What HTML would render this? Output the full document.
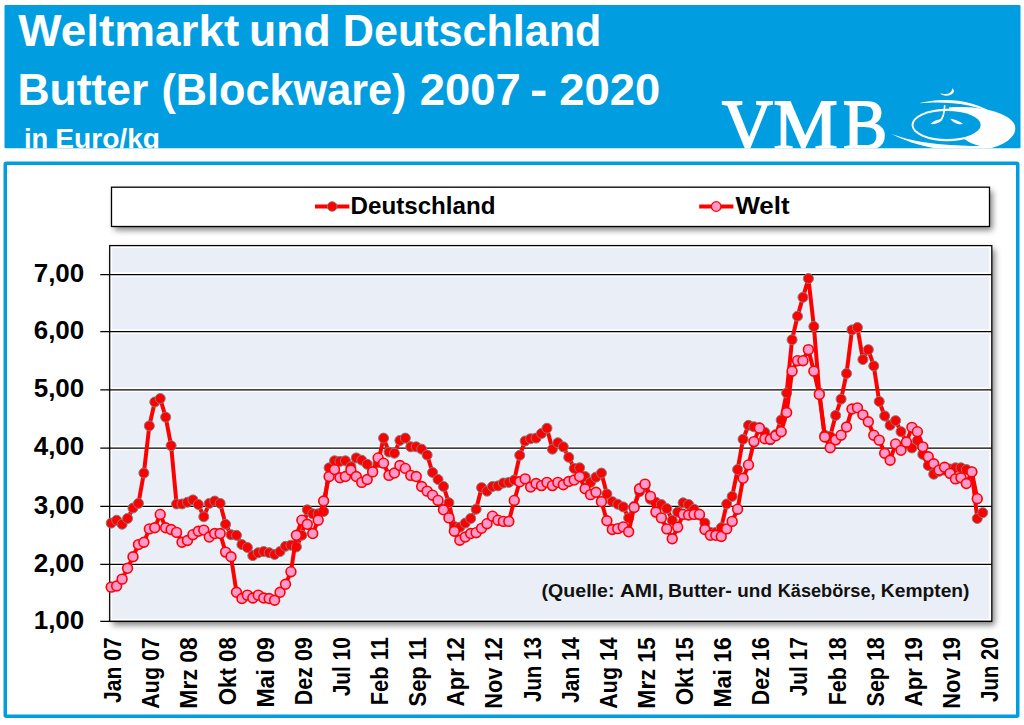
<!DOCTYPE html>
<html><head><meta charset="utf-8"><style>
html,body{margin:0;padding:0;background:#fff;width:1024px;height:725px;overflow:hidden}
svg{display:block}
</style></head><body>
<svg width="1024" height="725" viewBox="0 0 1024 725">
<defs>
<clipPath id="hc"><rect x="4.5" y="5" width="1016" height="143.2"/></clipPath>
<filter id="sh" x="-5%" y="-20%" width="110%" height="150%"><feGaussianBlur stdDeviation="3"/></filter>
</defs>
<rect x="4.5" y="5" width="1016" height="143.2" rx="1" fill="#009ee0"/>
<g clip-path="url(#hc)" fill="#fff" font-family="'Liberation Sans', sans-serif" font-weight="bold">
<text x="18.20" y="45.8" font-family="'Liberation Sans', sans-serif" font-weight="bold" font-size="45" textLength="221.06" lengthAdjust="spacingAndGlyphs" >Weltmarkt</text>
<text x="249.03" y="45.8" font-family="'Liberation Sans', sans-serif" font-weight="bold" font-size="45" textLength="81.61" lengthAdjust="spacingAndGlyphs" >und</text>
<text x="342.83" y="45.8" font-family="'Liberation Sans', sans-serif" font-weight="bold" font-size="45" textLength="258.59" lengthAdjust="spacingAndGlyphs" >Deutschland</text>
<text x="17.47" y="105" font-family="'Liberation Sans', sans-serif" font-weight="bold" font-size="44" textLength="130.90" lengthAdjust="spacingAndGlyphs" >Butter</text>
<text x="161.44" y="105" font-family="'Liberation Sans', sans-serif" font-weight="bold" font-size="44" textLength="245.04" lengthAdjust="spacingAndGlyphs" >(Blockware)</text>
<text x="419.67" y="105" font-family="'Liberation Sans', sans-serif" font-weight="bold" font-size="44" textLength="100.98" lengthAdjust="spacingAndGlyphs" >2007</text>
<text x="530.10" y="105" font-family="'Liberation Sans', sans-serif" font-weight="bold" font-size="44" textLength="17.59" lengthAdjust="spacingAndGlyphs" >-</text>
<text x="559.17" y="105" font-family="'Liberation Sans', sans-serif" font-weight="bold" font-size="44" textLength="101.08" lengthAdjust="spacingAndGlyphs" >2020</text>
<text x="23.98" y="147.8" font-family="'Liberation Sans', sans-serif" font-weight="bold" font-size="28.5" textLength="24.29" lengthAdjust="spacingAndGlyphs" >in</text>
<text x="55.22" y="147.8" font-family="'Liberation Sans', sans-serif" font-weight="bold" font-size="28.5" textLength="104.86" lengthAdjust="spacingAndGlyphs" >Euro/kg</text>
<text x="721.90" y="149.2" font-family="'Liberation Serif', serif" font-weight="normal" font-size="71" textLength="50.77" lengthAdjust="spacingAndGlyphs" stroke="#fff" stroke-width="1.8">V</text>
<text x="773.44" y="149.2" font-family="'Liberation Serif', serif" font-weight="normal" font-size="71" textLength="64.18" lengthAdjust="spacingAndGlyphs" stroke="#fff" stroke-width="1.8">M</text>
<text x="843.01" y="149.2" font-family="'Liberation Serif', serif" font-weight="normal" font-size="71" textLength="44.19" lengthAdjust="spacingAndGlyphs" stroke="#fff" stroke-width="1.8">B</text>
<g transform="translate(885,80) scale(0.135741)">
<path d="M470,203 C650,188 905,225 955,330 C985,420 860,500 700,515 L600,515 L470,331 Z"/>
<path d="M150,330 C150,190 400,185 470,203 L457,331 L590,438 C625,462 655,476 700,484 C500,492 250,480 150,330 Z" fill="#009ee0"/>
<ellipse cx="457.5" cy="331.5" rx="262" ry="119"/>
<ellipse cx="457.5" cy="331.5" rx="247.5" ry="103.5" fill="#009ee0"/>
<path d="M45,395 C180,455 380,482 700,488 L700,530 C380,530 180,470 45,395 Z"/>
<path d="M255,172 C380,138 640,118 840,275 C660,158 400,158 255,172 Z"/>
<path d="M405,100 C430,125 500,120 508,85 C510,75 503,65 495,60 C495,95 460,110 405,100 Z"/>
<path d="M440,185 C438,240 430,280 405,300" stroke="#fff" stroke-width="12" fill="none"/>
<path d="M335,325 C360,300 390,290 425,290 C410,315 370,330 335,325 Z"/>
<path d="M480,285 C515,290 555,305 575,325 C540,330 500,315 480,285 Z"/>
</g>
</g>
</g>
<rect x="5.25" y="163.25" width="1012.5" height="553" rx="1" fill="#fff" stroke="#009ee0" stroke-width="3.5"/>
<rect x="114.5" y="190.8" width="878" height="39.3" fill="#000" opacity="0.5" filter="url(#sh)"/>
<rect x="111.5" y="187.2" width="878" height="39.3" fill="#fff" stroke="#000" stroke-width="1.3"/>
<line x1="315" y1="206.5" x2="349.4" y2="206.5" stroke="#f00" stroke-width="4" stroke-linecap="butt"/>
<circle cx="332.2" cy="206.5" r="4.8" fill="#f00" stroke="#7f7f7f" stroke-width="1"/>
<line x1="699.2" y1="206.5" x2="733.4" y2="206.5" stroke="#f00" stroke-width="4" stroke-linecap="butt"/>
<circle cx="716.2" cy="206.5" r="4.8" fill="#ff99cc" stroke="#f00" stroke-width="1.3"/>
<g font-family="'Liberation Sans', sans-serif" font-weight="bold" fill="#000">
<text x="350.57" y="214" font-family="'Liberation Sans', sans-serif" font-weight="bold" font-size="23.5" textLength="144.89" lengthAdjust="spacingAndGlyphs" >Deutschland</text>
<text x="735.40" y="214.4" font-family="'Liberation Sans', sans-serif" font-weight="bold" font-size="23.5" textLength="54.21" lengthAdjust="spacingAndGlyphs" >Welt</text>
</g>
<rect x="112.7" y="249.1" width="882" height="376" fill="#000" opacity="0.5" filter="url(#sh)"/>
<rect x="109.7" y="245.6" width="882.1" height="375.9" fill="#eaeff7"/>
<line x1="109.7" y1="564.30" x2="991.8" y2="564.30" stroke="#fff" stroke-width="4.4"/>
<line x1="109.7" y1="506.30" x2="991.8" y2="506.30" stroke="#fff" stroke-width="4.4"/>
<line x1="109.7" y1="448.00" x2="991.8" y2="448.00" stroke="#fff" stroke-width="4.4"/>
<line x1="109.7" y1="389.80" x2="991.8" y2="389.80" stroke="#fff" stroke-width="4.4"/>
<line x1="109.7" y1="331.60" x2="991.8" y2="331.60" stroke="#fff" stroke-width="4.4"/>
<line x1="109.7" y1="274.50" x2="991.8" y2="274.50" stroke="#fff" stroke-width="4.4"/>
<rect x="110.9" y="246.8" width="879.7" height="373.4" fill="none" stroke="#fff" stroke-width="2.4"/>
<line x1="100.3" y1="621.40" x2="991.8" y2="621.40" stroke="#000" stroke-width="1.25"/>
<line x1="100.3" y1="564.30" x2="991.8" y2="564.30" stroke="#000" stroke-width="1.25"/>
<line x1="100.3" y1="506.30" x2="991.8" y2="506.30" stroke="#000" stroke-width="1.25"/>
<line x1="100.3" y1="448.00" x2="991.8" y2="448.00" stroke="#000" stroke-width="1.25"/>
<line x1="100.3" y1="389.80" x2="991.8" y2="389.80" stroke="#000" stroke-width="1.25"/>
<line x1="100.3" y1="331.60" x2="991.8" y2="331.60" stroke="#000" stroke-width="1.25"/>
<line x1="100.3" y1="274.50" x2="991.8" y2="274.50" stroke="#000" stroke-width="1.25"/>
<rect x="109.7" y="245.6" width="882.1" height="375.8" fill="none" stroke="#000" stroke-width="1.25"/>
<g fill="#111">
<text x="541.61" y="597" font-family="'Liberation Sans', sans-serif" font-weight="bold" font-size="18" textLength="72.79" lengthAdjust="spacingAndGlyphs" >(Quelle:</text>
<text x="619.90" y="597" font-family="'Liberation Sans', sans-serif" font-weight="bold" font-size="18" textLength="43.75" lengthAdjust="spacingAndGlyphs" >AMI,</text>
<text x="668.02" y="597" font-family="'Liberation Sans', sans-serif" font-weight="bold" font-size="18" textLength="63.78" lengthAdjust="spacingAndGlyphs" >Butter-</text>
<text x="737.35" y="597" font-family="'Liberation Sans', sans-serif" font-weight="bold" font-size="18" textLength="34.60" lengthAdjust="spacingAndGlyphs" >und</text>
<text x="777.69" y="597" font-family="'Liberation Sans', sans-serif" font-weight="bold" font-size="18" textLength="97.88" lengthAdjust="spacingAndGlyphs" >Käsebörse,</text>
<text x="880.83" y="597" font-family="'Liberation Sans', sans-serif" font-weight="bold" font-size="18" textLength="88.66" lengthAdjust="spacingAndGlyphs" >Kempten)</text>
</g>
<polyline points="111.20,523.12 116.65,520.22 122.09,524.28 127.54,518.48 132.99,508.04 138.44,503.39 143.88,473.07 149.33,425.88 154.78,402.02 160.22,398.53 165.67,417.15 171.12,445.67 176.56,503.97 182.01,503.97 187.46,502.22 192.91,499.89 198.35,504.55 203.80,516.74 209.25,503.39 214.69,501.05 220.14,503.39 225.59,524.28 231.03,534.72 236.48,535.30 241.93,544.58 247.38,547.48 252.82,555.60 258.27,552.70 263.72,551.54 269.16,552.70 274.61,554.44 280.06,551.54 285.50,546.32 290.95,545.16 296.40,546.90 301.85,535.30 307.29,509.78 312.74,513.84 318.19,513.84 323.63,511.52 329.08,467.82 334.53,460.83 339.97,461.41 345.42,460.83 350.87,466.66 356.31,457.91 361.76,460.24 367.21,464.32 372.66,471.32 378.10,462.57 383.55,438.11 389.00,452.08 394.44,453.25 399.89,440.43 405.34,438.11 410.78,446.84 416.23,446.84 421.68,449.17 427.13,455.00 432.57,472.49 438.02,479.48 443.47,486.48 448.91,502.80 454.36,526.60 459.81,527.18 465.25,523.12 470.70,518.48 476.15,509.20 481.60,487.64 487.04,491.14 492.49,486.48 497.94,485.89 503.38,482.98 508.83,482.40 514.28,480.06 519.73,455.29 525.17,441.02 530.62,438.69 536.07,438.11 541.51,433.45 546.96,428.21 552.41,449.17 557.85,442.76 563.30,446.84 568.75,457.33 574.20,468.41 579.64,467.82 585.09,476.57 590.54,482.40 595.98,477.15 601.43,473.07 606.88,494.06 612.32,501.64 617.77,504.26 623.22,506.88 628.67,517.90 634.11,506.30 639.56,491.73 645.01,485.89 650.45,499.30 655.90,502.22 661.35,504.55 666.79,508.62 672.24,520.22 677.69,512.10 683.14,502.80 688.58,504.55 694.03,509.20 699.48,515.00 704.92,523.12 710.37,532.40 715.82,532.40 721.26,527.76 726.71,503.97 732.16,496.39 737.61,469.57 743.05,439.27 748.50,425.30 753.95,426.76 759.39,427.63 764.84,432.29 770.29,439.85 775.73,434.61 781.18,420.06 786.63,393.00 792.08,339.75 797.52,316.18 802.97,297.34 808.42,278.50 813.86,326.46 819.31,392.71 824.76,435.20 830.20,436.36 835.65,415.41 841.10,399.11 846.55,373.50 851.99,329.89 857.44,327.60 862.89,359.54 868.33,349.64 873.78,365.94 879.23,401.44 884.67,415.99 890.12,425.30 895.57,420.65 901.02,431.70 906.46,442.18 911.91,448.00 917.36,440.43 922.80,454.41 928.25,465.49 933.70,474.24 939.14,471.32 944.59,470.15 950.04,468.99 955.49,467.82 960.93,467.82 966.38,469.57 971.83,471.90 977.27,518.48 982.72,512.68" fill="none" stroke="#f00" stroke-width="4" stroke-linejoin="round"/>
<circle cx="111.20" cy="523.12" r="5" fill="#f00" stroke="#7f7f7f" stroke-width="1"/>
<circle cx="116.65" cy="520.22" r="5" fill="#f00" stroke="#7f7f7f" stroke-width="1"/>
<circle cx="122.09" cy="524.28" r="5" fill="#f00" stroke="#7f7f7f" stroke-width="1"/>
<circle cx="127.54" cy="518.48" r="5" fill="#f00" stroke="#7f7f7f" stroke-width="1"/>
<circle cx="132.99" cy="508.04" r="5" fill="#f00" stroke="#7f7f7f" stroke-width="1"/>
<circle cx="138.44" cy="503.39" r="5" fill="#f00" stroke="#7f7f7f" stroke-width="1"/>
<circle cx="143.88" cy="473.07" r="5" fill="#f00" stroke="#7f7f7f" stroke-width="1"/>
<circle cx="149.33" cy="425.88" r="5" fill="#f00" stroke="#7f7f7f" stroke-width="1"/>
<circle cx="154.78" cy="402.02" r="5" fill="#f00" stroke="#7f7f7f" stroke-width="1"/>
<circle cx="160.22" cy="398.53" r="5" fill="#f00" stroke="#7f7f7f" stroke-width="1"/>
<circle cx="165.67" cy="417.15" r="5" fill="#f00" stroke="#7f7f7f" stroke-width="1"/>
<circle cx="171.12" cy="445.67" r="5" fill="#f00" stroke="#7f7f7f" stroke-width="1"/>
<circle cx="176.56" cy="503.97" r="5" fill="#f00" stroke="#7f7f7f" stroke-width="1"/>
<circle cx="182.01" cy="503.97" r="5" fill="#f00" stroke="#7f7f7f" stroke-width="1"/>
<circle cx="187.46" cy="502.22" r="5" fill="#f00" stroke="#7f7f7f" stroke-width="1"/>
<circle cx="192.91" cy="499.89" r="5" fill="#f00" stroke="#7f7f7f" stroke-width="1"/>
<circle cx="198.35" cy="504.55" r="5" fill="#f00" stroke="#7f7f7f" stroke-width="1"/>
<circle cx="203.80" cy="516.74" r="5" fill="#f00" stroke="#7f7f7f" stroke-width="1"/>
<circle cx="209.25" cy="503.39" r="5" fill="#f00" stroke="#7f7f7f" stroke-width="1"/>
<circle cx="214.69" cy="501.05" r="5" fill="#f00" stroke="#7f7f7f" stroke-width="1"/>
<circle cx="220.14" cy="503.39" r="5" fill="#f00" stroke="#7f7f7f" stroke-width="1"/>
<circle cx="225.59" cy="524.28" r="5" fill="#f00" stroke="#7f7f7f" stroke-width="1"/>
<circle cx="231.03" cy="534.72" r="5" fill="#f00" stroke="#7f7f7f" stroke-width="1"/>
<circle cx="236.48" cy="535.30" r="5" fill="#f00" stroke="#7f7f7f" stroke-width="1"/>
<circle cx="241.93" cy="544.58" r="5" fill="#f00" stroke="#7f7f7f" stroke-width="1"/>
<circle cx="247.38" cy="547.48" r="5" fill="#f00" stroke="#7f7f7f" stroke-width="1"/>
<circle cx="252.82" cy="555.60" r="5" fill="#f00" stroke="#7f7f7f" stroke-width="1"/>
<circle cx="258.27" cy="552.70" r="5" fill="#f00" stroke="#7f7f7f" stroke-width="1"/>
<circle cx="263.72" cy="551.54" r="5" fill="#f00" stroke="#7f7f7f" stroke-width="1"/>
<circle cx="269.16" cy="552.70" r="5" fill="#f00" stroke="#7f7f7f" stroke-width="1"/>
<circle cx="274.61" cy="554.44" r="5" fill="#f00" stroke="#7f7f7f" stroke-width="1"/>
<circle cx="280.06" cy="551.54" r="5" fill="#f00" stroke="#7f7f7f" stroke-width="1"/>
<circle cx="285.50" cy="546.32" r="5" fill="#f00" stroke="#7f7f7f" stroke-width="1"/>
<circle cx="290.95" cy="545.16" r="5" fill="#f00" stroke="#7f7f7f" stroke-width="1"/>
<circle cx="296.40" cy="546.90" r="5" fill="#f00" stroke="#7f7f7f" stroke-width="1"/>
<circle cx="301.85" cy="535.30" r="5" fill="#f00" stroke="#7f7f7f" stroke-width="1"/>
<circle cx="307.29" cy="509.78" r="5" fill="#f00" stroke="#7f7f7f" stroke-width="1"/>
<circle cx="312.74" cy="513.84" r="5" fill="#f00" stroke="#7f7f7f" stroke-width="1"/>
<circle cx="318.19" cy="513.84" r="5" fill="#f00" stroke="#7f7f7f" stroke-width="1"/>
<circle cx="323.63" cy="511.52" r="5" fill="#f00" stroke="#7f7f7f" stroke-width="1"/>
<circle cx="329.08" cy="467.82" r="5" fill="#f00" stroke="#7f7f7f" stroke-width="1"/>
<circle cx="334.53" cy="460.83" r="5" fill="#f00" stroke="#7f7f7f" stroke-width="1"/>
<circle cx="339.97" cy="461.41" r="5" fill="#f00" stroke="#7f7f7f" stroke-width="1"/>
<circle cx="345.42" cy="460.83" r="5" fill="#f00" stroke="#7f7f7f" stroke-width="1"/>
<circle cx="350.87" cy="466.66" r="5" fill="#f00" stroke="#7f7f7f" stroke-width="1"/>
<circle cx="356.31" cy="457.91" r="5" fill="#f00" stroke="#7f7f7f" stroke-width="1"/>
<circle cx="361.76" cy="460.24" r="5" fill="#f00" stroke="#7f7f7f" stroke-width="1"/>
<circle cx="367.21" cy="464.32" r="5" fill="#f00" stroke="#7f7f7f" stroke-width="1"/>
<circle cx="372.66" cy="471.32" r="5" fill="#f00" stroke="#7f7f7f" stroke-width="1"/>
<circle cx="378.10" cy="462.57" r="5" fill="#f00" stroke="#7f7f7f" stroke-width="1"/>
<circle cx="383.55" cy="438.11" r="5" fill="#f00" stroke="#7f7f7f" stroke-width="1"/>
<circle cx="389.00" cy="452.08" r="5" fill="#f00" stroke="#7f7f7f" stroke-width="1"/>
<circle cx="394.44" cy="453.25" r="5" fill="#f00" stroke="#7f7f7f" stroke-width="1"/>
<circle cx="399.89" cy="440.43" r="5" fill="#f00" stroke="#7f7f7f" stroke-width="1"/>
<circle cx="405.34" cy="438.11" r="5" fill="#f00" stroke="#7f7f7f" stroke-width="1"/>
<circle cx="410.78" cy="446.84" r="5" fill="#f00" stroke="#7f7f7f" stroke-width="1"/>
<circle cx="416.23" cy="446.84" r="5" fill="#f00" stroke="#7f7f7f" stroke-width="1"/>
<circle cx="421.68" cy="449.17" r="5" fill="#f00" stroke="#7f7f7f" stroke-width="1"/>
<circle cx="427.13" cy="455.00" r="5" fill="#f00" stroke="#7f7f7f" stroke-width="1"/>
<circle cx="432.57" cy="472.49" r="5" fill="#f00" stroke="#7f7f7f" stroke-width="1"/>
<circle cx="438.02" cy="479.48" r="5" fill="#f00" stroke="#7f7f7f" stroke-width="1"/>
<circle cx="443.47" cy="486.48" r="5" fill="#f00" stroke="#7f7f7f" stroke-width="1"/>
<circle cx="448.91" cy="502.80" r="5" fill="#f00" stroke="#7f7f7f" stroke-width="1"/>
<circle cx="454.36" cy="526.60" r="5" fill="#f00" stroke="#7f7f7f" stroke-width="1"/>
<circle cx="459.81" cy="527.18" r="5" fill="#f00" stroke="#7f7f7f" stroke-width="1"/>
<circle cx="465.25" cy="523.12" r="5" fill="#f00" stroke="#7f7f7f" stroke-width="1"/>
<circle cx="470.70" cy="518.48" r="5" fill="#f00" stroke="#7f7f7f" stroke-width="1"/>
<circle cx="476.15" cy="509.20" r="5" fill="#f00" stroke="#7f7f7f" stroke-width="1"/>
<circle cx="481.60" cy="487.64" r="5" fill="#f00" stroke="#7f7f7f" stroke-width="1"/>
<circle cx="487.04" cy="491.14" r="5" fill="#f00" stroke="#7f7f7f" stroke-width="1"/>
<circle cx="492.49" cy="486.48" r="5" fill="#f00" stroke="#7f7f7f" stroke-width="1"/>
<circle cx="497.94" cy="485.89" r="5" fill="#f00" stroke="#7f7f7f" stroke-width="1"/>
<circle cx="503.38" cy="482.98" r="5" fill="#f00" stroke="#7f7f7f" stroke-width="1"/>
<circle cx="508.83" cy="482.40" r="5" fill="#f00" stroke="#7f7f7f" stroke-width="1"/>
<circle cx="514.28" cy="480.06" r="5" fill="#f00" stroke="#7f7f7f" stroke-width="1"/>
<circle cx="519.73" cy="455.29" r="5" fill="#f00" stroke="#7f7f7f" stroke-width="1"/>
<circle cx="525.17" cy="441.02" r="5" fill="#f00" stroke="#7f7f7f" stroke-width="1"/>
<circle cx="530.62" cy="438.69" r="5" fill="#f00" stroke="#7f7f7f" stroke-width="1"/>
<circle cx="536.07" cy="438.11" r="5" fill="#f00" stroke="#7f7f7f" stroke-width="1"/>
<circle cx="541.51" cy="433.45" r="5" fill="#f00" stroke="#7f7f7f" stroke-width="1"/>
<circle cx="546.96" cy="428.21" r="5" fill="#f00" stroke="#7f7f7f" stroke-width="1"/>
<circle cx="552.41" cy="449.17" r="5" fill="#f00" stroke="#7f7f7f" stroke-width="1"/>
<circle cx="557.85" cy="442.76" r="5" fill="#f00" stroke="#7f7f7f" stroke-width="1"/>
<circle cx="563.30" cy="446.84" r="5" fill="#f00" stroke="#7f7f7f" stroke-width="1"/>
<circle cx="568.75" cy="457.33" r="5" fill="#f00" stroke="#7f7f7f" stroke-width="1"/>
<circle cx="574.20" cy="468.41" r="5" fill="#f00" stroke="#7f7f7f" stroke-width="1"/>
<circle cx="579.64" cy="467.82" r="5" fill="#f00" stroke="#7f7f7f" stroke-width="1"/>
<circle cx="585.09" cy="476.57" r="5" fill="#f00" stroke="#7f7f7f" stroke-width="1"/>
<circle cx="590.54" cy="482.40" r="5" fill="#f00" stroke="#7f7f7f" stroke-width="1"/>
<circle cx="595.98" cy="477.15" r="5" fill="#f00" stroke="#7f7f7f" stroke-width="1"/>
<circle cx="601.43" cy="473.07" r="5" fill="#f00" stroke="#7f7f7f" stroke-width="1"/>
<circle cx="606.88" cy="494.06" r="5" fill="#f00" stroke="#7f7f7f" stroke-width="1"/>
<circle cx="612.32" cy="501.64" r="5" fill="#f00" stroke="#7f7f7f" stroke-width="1"/>
<circle cx="617.77" cy="504.26" r="5" fill="#f00" stroke="#7f7f7f" stroke-width="1"/>
<circle cx="623.22" cy="506.88" r="5" fill="#f00" stroke="#7f7f7f" stroke-width="1"/>
<circle cx="628.67" cy="517.90" r="5" fill="#f00" stroke="#7f7f7f" stroke-width="1"/>
<circle cx="634.11" cy="506.30" r="5" fill="#f00" stroke="#7f7f7f" stroke-width="1"/>
<circle cx="639.56" cy="491.73" r="5" fill="#f00" stroke="#7f7f7f" stroke-width="1"/>
<circle cx="645.01" cy="485.89" r="5" fill="#f00" stroke="#7f7f7f" stroke-width="1"/>
<circle cx="650.45" cy="499.30" r="5" fill="#f00" stroke="#7f7f7f" stroke-width="1"/>
<circle cx="655.90" cy="502.22" r="5" fill="#f00" stroke="#7f7f7f" stroke-width="1"/>
<circle cx="661.35" cy="504.55" r="5" fill="#f00" stroke="#7f7f7f" stroke-width="1"/>
<circle cx="666.79" cy="508.62" r="5" fill="#f00" stroke="#7f7f7f" stroke-width="1"/>
<circle cx="672.24" cy="520.22" r="5" fill="#f00" stroke="#7f7f7f" stroke-width="1"/>
<circle cx="677.69" cy="512.10" r="5" fill="#f00" stroke="#7f7f7f" stroke-width="1"/>
<circle cx="683.14" cy="502.80" r="5" fill="#f00" stroke="#7f7f7f" stroke-width="1"/>
<circle cx="688.58" cy="504.55" r="5" fill="#f00" stroke="#7f7f7f" stroke-width="1"/>
<circle cx="694.03" cy="509.20" r="5" fill="#f00" stroke="#7f7f7f" stroke-width="1"/>
<circle cx="699.48" cy="515.00" r="5" fill="#f00" stroke="#7f7f7f" stroke-width="1"/>
<circle cx="704.92" cy="523.12" r="5" fill="#f00" stroke="#7f7f7f" stroke-width="1"/>
<circle cx="710.37" cy="532.40" r="5" fill="#f00" stroke="#7f7f7f" stroke-width="1"/>
<circle cx="715.82" cy="532.40" r="5" fill="#f00" stroke="#7f7f7f" stroke-width="1"/>
<circle cx="721.26" cy="527.76" r="5" fill="#f00" stroke="#7f7f7f" stroke-width="1"/>
<circle cx="726.71" cy="503.97" r="5" fill="#f00" stroke="#7f7f7f" stroke-width="1"/>
<circle cx="732.16" cy="496.39" r="5" fill="#f00" stroke="#7f7f7f" stroke-width="1"/>
<circle cx="737.61" cy="469.57" r="5" fill="#f00" stroke="#7f7f7f" stroke-width="1"/>
<circle cx="743.05" cy="439.27" r="5" fill="#f00" stroke="#7f7f7f" stroke-width="1"/>
<circle cx="748.50" cy="425.30" r="5" fill="#f00" stroke="#7f7f7f" stroke-width="1"/>
<circle cx="753.95" cy="426.76" r="5" fill="#f00" stroke="#7f7f7f" stroke-width="1"/>
<circle cx="759.39" cy="427.63" r="5" fill="#f00" stroke="#7f7f7f" stroke-width="1"/>
<circle cx="764.84" cy="432.29" r="5" fill="#f00" stroke="#7f7f7f" stroke-width="1"/>
<circle cx="770.29" cy="439.85" r="5" fill="#f00" stroke="#7f7f7f" stroke-width="1"/>
<circle cx="775.73" cy="434.61" r="5" fill="#f00" stroke="#7f7f7f" stroke-width="1"/>
<circle cx="781.18" cy="420.06" r="5" fill="#f00" stroke="#7f7f7f" stroke-width="1"/>
<circle cx="786.63" cy="393.00" r="5" fill="#f00" stroke="#7f7f7f" stroke-width="1"/>
<circle cx="792.08" cy="339.75" r="5" fill="#f00" stroke="#7f7f7f" stroke-width="1"/>
<circle cx="797.52" cy="316.18" r="5" fill="#f00" stroke="#7f7f7f" stroke-width="1"/>
<circle cx="802.97" cy="297.34" r="5" fill="#f00" stroke="#7f7f7f" stroke-width="1"/>
<circle cx="808.42" cy="278.50" r="5" fill="#f00" stroke="#7f7f7f" stroke-width="1"/>
<circle cx="813.86" cy="326.46" r="5" fill="#f00" stroke="#7f7f7f" stroke-width="1"/>
<circle cx="819.31" cy="392.71" r="5" fill="#f00" stroke="#7f7f7f" stroke-width="1"/>
<circle cx="824.76" cy="435.20" r="5" fill="#f00" stroke="#7f7f7f" stroke-width="1"/>
<circle cx="830.20" cy="436.36" r="5" fill="#f00" stroke="#7f7f7f" stroke-width="1"/>
<circle cx="835.65" cy="415.41" r="5" fill="#f00" stroke="#7f7f7f" stroke-width="1"/>
<circle cx="841.10" cy="399.11" r="5" fill="#f00" stroke="#7f7f7f" stroke-width="1"/>
<circle cx="846.55" cy="373.50" r="5" fill="#f00" stroke="#7f7f7f" stroke-width="1"/>
<circle cx="851.99" cy="329.89" r="5" fill="#f00" stroke="#7f7f7f" stroke-width="1"/>
<circle cx="857.44" cy="327.60" r="5" fill="#f00" stroke="#7f7f7f" stroke-width="1"/>
<circle cx="862.89" cy="359.54" r="5" fill="#f00" stroke="#7f7f7f" stroke-width="1"/>
<circle cx="868.33" cy="349.64" r="5" fill="#f00" stroke="#7f7f7f" stroke-width="1"/>
<circle cx="873.78" cy="365.94" r="5" fill="#f00" stroke="#7f7f7f" stroke-width="1"/>
<circle cx="879.23" cy="401.44" r="5" fill="#f00" stroke="#7f7f7f" stroke-width="1"/>
<circle cx="884.67" cy="415.99" r="5" fill="#f00" stroke="#7f7f7f" stroke-width="1"/>
<circle cx="890.12" cy="425.30" r="5" fill="#f00" stroke="#7f7f7f" stroke-width="1"/>
<circle cx="895.57" cy="420.65" r="5" fill="#f00" stroke="#7f7f7f" stroke-width="1"/>
<circle cx="901.02" cy="431.70" r="5" fill="#f00" stroke="#7f7f7f" stroke-width="1"/>
<circle cx="906.46" cy="442.18" r="5" fill="#f00" stroke="#7f7f7f" stroke-width="1"/>
<circle cx="911.91" cy="448.00" r="5" fill="#f00" stroke="#7f7f7f" stroke-width="1"/>
<circle cx="917.36" cy="440.43" r="5" fill="#f00" stroke="#7f7f7f" stroke-width="1"/>
<circle cx="922.80" cy="454.41" r="5" fill="#f00" stroke="#7f7f7f" stroke-width="1"/>
<circle cx="928.25" cy="465.49" r="5" fill="#f00" stroke="#7f7f7f" stroke-width="1"/>
<circle cx="933.70" cy="474.24" r="5" fill="#f00" stroke="#7f7f7f" stroke-width="1"/>
<circle cx="939.14" cy="471.32" r="5" fill="#f00" stroke="#7f7f7f" stroke-width="1"/>
<circle cx="944.59" cy="470.15" r="5" fill="#f00" stroke="#7f7f7f" stroke-width="1"/>
<circle cx="950.04" cy="468.99" r="5" fill="#f00" stroke="#7f7f7f" stroke-width="1"/>
<circle cx="955.49" cy="467.82" r="5" fill="#f00" stroke="#7f7f7f" stroke-width="1"/>
<circle cx="960.93" cy="467.82" r="5" fill="#f00" stroke="#7f7f7f" stroke-width="1"/>
<circle cx="966.38" cy="469.57" r="5" fill="#f00" stroke="#7f7f7f" stroke-width="1"/>
<circle cx="971.83" cy="471.90" r="5" fill="#f00" stroke="#7f7f7f" stroke-width="1"/>
<circle cx="977.27" cy="518.48" r="5" fill="#f00" stroke="#7f7f7f" stroke-width="1"/>
<circle cx="982.72" cy="512.68" r="5" fill="#f00" stroke="#7f7f7f" stroke-width="1"/>
<polyline points="111.20,587.14 116.65,586.00 122.09,579.15 127.54,568.30 132.99,556.76 138.44,544.58 143.88,542.26 149.33,528.92 154.78,527.76 160.22,514.42 165.67,527.76 171.12,529.50 176.56,532.40 182.01,542.26 187.46,540.52 192.91,534.72 198.35,531.24 203.80,530.08 209.25,537.04 214.69,533.56 220.14,533.56 225.59,552.12 231.03,556.76 236.48,592.28 241.93,598.56 247.38,595.13 252.82,597.99 258.27,595.13 263.72,597.99 269.16,598.56 274.61,600.27 280.06,592.28 285.50,584.28 290.95,571.72 296.40,535.30 301.85,520.22 307.29,524.28 312.74,533.56 318.19,520.22 323.63,501.05 329.08,476.57 334.53,469.57 339.97,477.73 345.42,476.57 350.87,470.15 356.31,476.57 361.76,482.40 367.21,479.48 372.66,471.90 378.10,457.91 383.55,463.16 389.00,475.40 394.44,473.07 399.89,465.49 405.34,468.41 410.78,475.40 416.23,476.57 421.68,486.48 427.13,491.14 432.57,495.22 438.02,500.47 443.47,509.78 448.91,517.90 454.36,531.24 459.81,540.23 465.25,537.04 470.70,533.56 476.15,532.69 481.60,528.34 487.04,523.70 492.49,516.16 497.94,520.22 503.38,521.38 508.83,521.38 514.28,500.47 519.73,481.81 525.17,478.90 530.62,487.06 536.07,483.56 541.51,485.60 546.96,482.40 552.41,485.60 557.85,482.40 563.30,484.73 568.75,481.52 574.20,480.06 579.64,476.57 585.09,488.81 590.54,494.64 595.98,492.31 601.43,501.64 606.88,520.80 612.32,529.50 617.77,528.63 623.22,526.89 628.67,531.82 634.11,507.46 639.56,488.81 645.01,484.15 650.45,496.39 655.90,512.10 661.35,517.90 666.79,528.92 672.24,538.78 677.69,527.18 683.14,514.42 688.58,515.00 694.03,514.42 699.48,514.42 704.92,529.50 710.37,535.30 715.82,535.30 721.26,536.46 726.71,528.92 732.16,521.38 737.61,509.20 743.05,478.32 748.50,464.91 753.95,441.60 759.39,428.21 764.84,438.69 770.29,439.27 775.73,435.78 781.18,431.70 786.63,412.50 792.08,371.18 797.52,360.70 802.97,360.70 808.42,349.64 813.86,371.18 819.31,394.46 824.76,436.94 830.20,447.71 835.65,439.85 841.10,435.20 846.55,427.05 851.99,409.01 857.44,407.84 862.89,414.83 868.33,421.81 873.78,435.20 879.23,440.14 884.67,453.25 890.12,460.24 895.57,443.93 901.02,450.33 906.46,442.18 911.91,427.34 917.36,431.70 922.80,446.84 928.25,456.75 933.70,463.74 939.14,470.15 944.59,467.24 950.04,473.36 955.49,478.90 960.93,477.73 966.38,483.56 971.83,471.90 977.27,498.72" fill="none" stroke="#f00" stroke-width="4" stroke-linejoin="round"/>
<circle cx="111.20" cy="587.14" r="4.9" fill="#ff99cc" stroke="#f00" stroke-width="1.6"/>
<circle cx="116.65" cy="586.00" r="4.9" fill="#ff99cc" stroke="#f00" stroke-width="1.6"/>
<circle cx="122.09" cy="579.15" r="4.9" fill="#ff99cc" stroke="#f00" stroke-width="1.6"/>
<circle cx="127.54" cy="568.30" r="4.9" fill="#ff99cc" stroke="#f00" stroke-width="1.6"/>
<circle cx="132.99" cy="556.76" r="4.9" fill="#ff99cc" stroke="#f00" stroke-width="1.6"/>
<circle cx="138.44" cy="544.58" r="4.9" fill="#ff99cc" stroke="#f00" stroke-width="1.6"/>
<circle cx="143.88" cy="542.26" r="4.9" fill="#ff99cc" stroke="#f00" stroke-width="1.6"/>
<circle cx="149.33" cy="528.92" r="4.9" fill="#ff99cc" stroke="#f00" stroke-width="1.6"/>
<circle cx="154.78" cy="527.76" r="4.9" fill="#ff99cc" stroke="#f00" stroke-width="1.6"/>
<circle cx="160.22" cy="514.42" r="4.9" fill="#ff99cc" stroke="#f00" stroke-width="1.6"/>
<circle cx="165.67" cy="527.76" r="4.9" fill="#ff99cc" stroke="#f00" stroke-width="1.6"/>
<circle cx="171.12" cy="529.50" r="4.9" fill="#ff99cc" stroke="#f00" stroke-width="1.6"/>
<circle cx="176.56" cy="532.40" r="4.9" fill="#ff99cc" stroke="#f00" stroke-width="1.6"/>
<circle cx="182.01" cy="542.26" r="4.9" fill="#ff99cc" stroke="#f00" stroke-width="1.6"/>
<circle cx="187.46" cy="540.52" r="4.9" fill="#ff99cc" stroke="#f00" stroke-width="1.6"/>
<circle cx="192.91" cy="534.72" r="4.9" fill="#ff99cc" stroke="#f00" stroke-width="1.6"/>
<circle cx="198.35" cy="531.24" r="4.9" fill="#ff99cc" stroke="#f00" stroke-width="1.6"/>
<circle cx="203.80" cy="530.08" r="4.9" fill="#ff99cc" stroke="#f00" stroke-width="1.6"/>
<circle cx="209.25" cy="537.04" r="4.9" fill="#ff99cc" stroke="#f00" stroke-width="1.6"/>
<circle cx="214.69" cy="533.56" r="4.9" fill="#ff99cc" stroke="#f00" stroke-width="1.6"/>
<circle cx="220.14" cy="533.56" r="4.9" fill="#ff99cc" stroke="#f00" stroke-width="1.6"/>
<circle cx="225.59" cy="552.12" r="4.9" fill="#ff99cc" stroke="#f00" stroke-width="1.6"/>
<circle cx="231.03" cy="556.76" r="4.9" fill="#ff99cc" stroke="#f00" stroke-width="1.6"/>
<circle cx="236.48" cy="592.28" r="4.9" fill="#ff99cc" stroke="#f00" stroke-width="1.6"/>
<circle cx="241.93" cy="598.56" r="4.9" fill="#ff99cc" stroke="#f00" stroke-width="1.6"/>
<circle cx="247.38" cy="595.13" r="4.9" fill="#ff99cc" stroke="#f00" stroke-width="1.6"/>
<circle cx="252.82" cy="597.99" r="4.9" fill="#ff99cc" stroke="#f00" stroke-width="1.6"/>
<circle cx="258.27" cy="595.13" r="4.9" fill="#ff99cc" stroke="#f00" stroke-width="1.6"/>
<circle cx="263.72" cy="597.99" r="4.9" fill="#ff99cc" stroke="#f00" stroke-width="1.6"/>
<circle cx="269.16" cy="598.56" r="4.9" fill="#ff99cc" stroke="#f00" stroke-width="1.6"/>
<circle cx="274.61" cy="600.27" r="4.9" fill="#ff99cc" stroke="#f00" stroke-width="1.6"/>
<circle cx="280.06" cy="592.28" r="4.9" fill="#ff99cc" stroke="#f00" stroke-width="1.6"/>
<circle cx="285.50" cy="584.28" r="4.9" fill="#ff99cc" stroke="#f00" stroke-width="1.6"/>
<circle cx="290.95" cy="571.72" r="4.9" fill="#ff99cc" stroke="#f00" stroke-width="1.6"/>
<circle cx="296.40" cy="535.30" r="4.9" fill="#ff99cc" stroke="#f00" stroke-width="1.6"/>
<circle cx="301.85" cy="520.22" r="4.9" fill="#ff99cc" stroke="#f00" stroke-width="1.6"/>
<circle cx="307.29" cy="524.28" r="4.9" fill="#ff99cc" stroke="#f00" stroke-width="1.6"/>
<circle cx="312.74" cy="533.56" r="4.9" fill="#ff99cc" stroke="#f00" stroke-width="1.6"/>
<circle cx="318.19" cy="520.22" r="4.9" fill="#ff99cc" stroke="#f00" stroke-width="1.6"/>
<circle cx="323.63" cy="501.05" r="4.9" fill="#ff99cc" stroke="#f00" stroke-width="1.6"/>
<circle cx="329.08" cy="476.57" r="4.9" fill="#ff99cc" stroke="#f00" stroke-width="1.6"/>
<circle cx="334.53" cy="469.57" r="4.9" fill="#ff99cc" stroke="#f00" stroke-width="1.6"/>
<circle cx="339.97" cy="477.73" r="4.9" fill="#ff99cc" stroke="#f00" stroke-width="1.6"/>
<circle cx="345.42" cy="476.57" r="4.9" fill="#ff99cc" stroke="#f00" stroke-width="1.6"/>
<circle cx="350.87" cy="470.15" r="4.9" fill="#ff99cc" stroke="#f00" stroke-width="1.6"/>
<circle cx="356.31" cy="476.57" r="4.9" fill="#ff99cc" stroke="#f00" stroke-width="1.6"/>
<circle cx="361.76" cy="482.40" r="4.9" fill="#ff99cc" stroke="#f00" stroke-width="1.6"/>
<circle cx="367.21" cy="479.48" r="4.9" fill="#ff99cc" stroke="#f00" stroke-width="1.6"/>
<circle cx="372.66" cy="471.90" r="4.9" fill="#ff99cc" stroke="#f00" stroke-width="1.6"/>
<circle cx="378.10" cy="457.91" r="4.9" fill="#ff99cc" stroke="#f00" stroke-width="1.6"/>
<circle cx="383.55" cy="463.16" r="4.9" fill="#ff99cc" stroke="#f00" stroke-width="1.6"/>
<circle cx="389.00" cy="475.40" r="4.9" fill="#ff99cc" stroke="#f00" stroke-width="1.6"/>
<circle cx="394.44" cy="473.07" r="4.9" fill="#ff99cc" stroke="#f00" stroke-width="1.6"/>
<circle cx="399.89" cy="465.49" r="4.9" fill="#ff99cc" stroke="#f00" stroke-width="1.6"/>
<circle cx="405.34" cy="468.41" r="4.9" fill="#ff99cc" stroke="#f00" stroke-width="1.6"/>
<circle cx="410.78" cy="475.40" r="4.9" fill="#ff99cc" stroke="#f00" stroke-width="1.6"/>
<circle cx="416.23" cy="476.57" r="4.9" fill="#ff99cc" stroke="#f00" stroke-width="1.6"/>
<circle cx="421.68" cy="486.48" r="4.9" fill="#ff99cc" stroke="#f00" stroke-width="1.6"/>
<circle cx="427.13" cy="491.14" r="4.9" fill="#ff99cc" stroke="#f00" stroke-width="1.6"/>
<circle cx="432.57" cy="495.22" r="4.9" fill="#ff99cc" stroke="#f00" stroke-width="1.6"/>
<circle cx="438.02" cy="500.47" r="4.9" fill="#ff99cc" stroke="#f00" stroke-width="1.6"/>
<circle cx="443.47" cy="509.78" r="4.9" fill="#ff99cc" stroke="#f00" stroke-width="1.6"/>
<circle cx="448.91" cy="517.90" r="4.9" fill="#ff99cc" stroke="#f00" stroke-width="1.6"/>
<circle cx="454.36" cy="531.24" r="4.9" fill="#ff99cc" stroke="#f00" stroke-width="1.6"/>
<circle cx="459.81" cy="540.23" r="4.9" fill="#ff99cc" stroke="#f00" stroke-width="1.6"/>
<circle cx="465.25" cy="537.04" r="4.9" fill="#ff99cc" stroke="#f00" stroke-width="1.6"/>
<circle cx="470.70" cy="533.56" r="4.9" fill="#ff99cc" stroke="#f00" stroke-width="1.6"/>
<circle cx="476.15" cy="532.69" r="4.9" fill="#ff99cc" stroke="#f00" stroke-width="1.6"/>
<circle cx="481.60" cy="528.34" r="4.9" fill="#ff99cc" stroke="#f00" stroke-width="1.6"/>
<circle cx="487.04" cy="523.70" r="4.9" fill="#ff99cc" stroke="#f00" stroke-width="1.6"/>
<circle cx="492.49" cy="516.16" r="4.9" fill="#ff99cc" stroke="#f00" stroke-width="1.6"/>
<circle cx="497.94" cy="520.22" r="4.9" fill="#ff99cc" stroke="#f00" stroke-width="1.6"/>
<circle cx="503.38" cy="521.38" r="4.9" fill="#ff99cc" stroke="#f00" stroke-width="1.6"/>
<circle cx="508.83" cy="521.38" r="4.9" fill="#ff99cc" stroke="#f00" stroke-width="1.6"/>
<circle cx="514.28" cy="500.47" r="4.9" fill="#ff99cc" stroke="#f00" stroke-width="1.6"/>
<circle cx="519.73" cy="481.81" r="4.9" fill="#ff99cc" stroke="#f00" stroke-width="1.6"/>
<circle cx="525.17" cy="478.90" r="4.9" fill="#ff99cc" stroke="#f00" stroke-width="1.6"/>
<circle cx="530.62" cy="487.06" r="4.9" fill="#ff99cc" stroke="#f00" stroke-width="1.6"/>
<circle cx="536.07" cy="483.56" r="4.9" fill="#ff99cc" stroke="#f00" stroke-width="1.6"/>
<circle cx="541.51" cy="485.60" r="4.9" fill="#ff99cc" stroke="#f00" stroke-width="1.6"/>
<circle cx="546.96" cy="482.40" r="4.9" fill="#ff99cc" stroke="#f00" stroke-width="1.6"/>
<circle cx="552.41" cy="485.60" r="4.9" fill="#ff99cc" stroke="#f00" stroke-width="1.6"/>
<circle cx="557.85" cy="482.40" r="4.9" fill="#ff99cc" stroke="#f00" stroke-width="1.6"/>
<circle cx="563.30" cy="484.73" r="4.9" fill="#ff99cc" stroke="#f00" stroke-width="1.6"/>
<circle cx="568.75" cy="481.52" r="4.9" fill="#ff99cc" stroke="#f00" stroke-width="1.6"/>
<circle cx="574.20" cy="480.06" r="4.9" fill="#ff99cc" stroke="#f00" stroke-width="1.6"/>
<circle cx="579.64" cy="476.57" r="4.9" fill="#ff99cc" stroke="#f00" stroke-width="1.6"/>
<circle cx="585.09" cy="488.81" r="4.9" fill="#ff99cc" stroke="#f00" stroke-width="1.6"/>
<circle cx="590.54" cy="494.64" r="4.9" fill="#ff99cc" stroke="#f00" stroke-width="1.6"/>
<circle cx="595.98" cy="492.31" r="4.9" fill="#ff99cc" stroke="#f00" stroke-width="1.6"/>
<circle cx="601.43" cy="501.64" r="4.9" fill="#ff99cc" stroke="#f00" stroke-width="1.6"/>
<circle cx="606.88" cy="520.80" r="4.9" fill="#ff99cc" stroke="#f00" stroke-width="1.6"/>
<circle cx="612.32" cy="529.50" r="4.9" fill="#ff99cc" stroke="#f00" stroke-width="1.6"/>
<circle cx="617.77" cy="528.63" r="4.9" fill="#ff99cc" stroke="#f00" stroke-width="1.6"/>
<circle cx="623.22" cy="526.89" r="4.9" fill="#ff99cc" stroke="#f00" stroke-width="1.6"/>
<circle cx="628.67" cy="531.82" r="4.9" fill="#ff99cc" stroke="#f00" stroke-width="1.6"/>
<circle cx="634.11" cy="507.46" r="4.9" fill="#ff99cc" stroke="#f00" stroke-width="1.6"/>
<circle cx="639.56" cy="488.81" r="4.9" fill="#ff99cc" stroke="#f00" stroke-width="1.6"/>
<circle cx="645.01" cy="484.15" r="4.9" fill="#ff99cc" stroke="#f00" stroke-width="1.6"/>
<circle cx="650.45" cy="496.39" r="4.9" fill="#ff99cc" stroke="#f00" stroke-width="1.6"/>
<circle cx="655.90" cy="512.10" r="4.9" fill="#ff99cc" stroke="#f00" stroke-width="1.6"/>
<circle cx="661.35" cy="517.90" r="4.9" fill="#ff99cc" stroke="#f00" stroke-width="1.6"/>
<circle cx="666.79" cy="528.92" r="4.9" fill="#ff99cc" stroke="#f00" stroke-width="1.6"/>
<circle cx="672.24" cy="538.78" r="4.9" fill="#ff99cc" stroke="#f00" stroke-width="1.6"/>
<circle cx="677.69" cy="527.18" r="4.9" fill="#ff99cc" stroke="#f00" stroke-width="1.6"/>
<circle cx="683.14" cy="514.42" r="4.9" fill="#ff99cc" stroke="#f00" stroke-width="1.6"/>
<circle cx="688.58" cy="515.00" r="4.9" fill="#ff99cc" stroke="#f00" stroke-width="1.6"/>
<circle cx="694.03" cy="514.42" r="4.9" fill="#ff99cc" stroke="#f00" stroke-width="1.6"/>
<circle cx="699.48" cy="514.42" r="4.9" fill="#ff99cc" stroke="#f00" stroke-width="1.6"/>
<circle cx="704.92" cy="529.50" r="4.9" fill="#ff99cc" stroke="#f00" stroke-width="1.6"/>
<circle cx="710.37" cy="535.30" r="4.9" fill="#ff99cc" stroke="#f00" stroke-width="1.6"/>
<circle cx="715.82" cy="535.30" r="4.9" fill="#ff99cc" stroke="#f00" stroke-width="1.6"/>
<circle cx="721.26" cy="536.46" r="4.9" fill="#ff99cc" stroke="#f00" stroke-width="1.6"/>
<circle cx="726.71" cy="528.92" r="4.9" fill="#ff99cc" stroke="#f00" stroke-width="1.6"/>
<circle cx="732.16" cy="521.38" r="4.9" fill="#ff99cc" stroke="#f00" stroke-width="1.6"/>
<circle cx="737.61" cy="509.20" r="4.9" fill="#ff99cc" stroke="#f00" stroke-width="1.6"/>
<circle cx="743.05" cy="478.32" r="4.9" fill="#ff99cc" stroke="#f00" stroke-width="1.6"/>
<circle cx="748.50" cy="464.91" r="4.9" fill="#ff99cc" stroke="#f00" stroke-width="1.6"/>
<circle cx="753.95" cy="441.60" r="4.9" fill="#ff99cc" stroke="#f00" stroke-width="1.6"/>
<circle cx="759.39" cy="428.21" r="4.9" fill="#ff99cc" stroke="#f00" stroke-width="1.6"/>
<circle cx="764.84" cy="438.69" r="4.9" fill="#ff99cc" stroke="#f00" stroke-width="1.6"/>
<circle cx="770.29" cy="439.27" r="4.9" fill="#ff99cc" stroke="#f00" stroke-width="1.6"/>
<circle cx="775.73" cy="435.78" r="4.9" fill="#ff99cc" stroke="#f00" stroke-width="1.6"/>
<circle cx="781.18" cy="431.70" r="4.9" fill="#ff99cc" stroke="#f00" stroke-width="1.6"/>
<circle cx="786.63" cy="412.50" r="4.9" fill="#ff99cc" stroke="#f00" stroke-width="1.6"/>
<circle cx="792.08" cy="371.18" r="4.9" fill="#ff99cc" stroke="#f00" stroke-width="1.6"/>
<circle cx="797.52" cy="360.70" r="4.9" fill="#ff99cc" stroke="#f00" stroke-width="1.6"/>
<circle cx="802.97" cy="360.70" r="4.9" fill="#ff99cc" stroke="#f00" stroke-width="1.6"/>
<circle cx="808.42" cy="349.64" r="4.9" fill="#ff99cc" stroke="#f00" stroke-width="1.6"/>
<circle cx="813.86" cy="371.18" r="4.9" fill="#ff99cc" stroke="#f00" stroke-width="1.6"/>
<circle cx="819.31" cy="394.46" r="4.9" fill="#ff99cc" stroke="#f00" stroke-width="1.6"/>
<circle cx="824.76" cy="436.94" r="4.9" fill="#ff99cc" stroke="#f00" stroke-width="1.6"/>
<circle cx="830.20" cy="447.71" r="4.9" fill="#ff99cc" stroke="#f00" stroke-width="1.6"/>
<circle cx="835.65" cy="439.85" r="4.9" fill="#ff99cc" stroke="#f00" stroke-width="1.6"/>
<circle cx="841.10" cy="435.20" r="4.9" fill="#ff99cc" stroke="#f00" stroke-width="1.6"/>
<circle cx="846.55" cy="427.05" r="4.9" fill="#ff99cc" stroke="#f00" stroke-width="1.6"/>
<circle cx="851.99" cy="409.01" r="4.9" fill="#ff99cc" stroke="#f00" stroke-width="1.6"/>
<circle cx="857.44" cy="407.84" r="4.9" fill="#ff99cc" stroke="#f00" stroke-width="1.6"/>
<circle cx="862.89" cy="414.83" r="4.9" fill="#ff99cc" stroke="#f00" stroke-width="1.6"/>
<circle cx="868.33" cy="421.81" r="4.9" fill="#ff99cc" stroke="#f00" stroke-width="1.6"/>
<circle cx="873.78" cy="435.20" r="4.9" fill="#ff99cc" stroke="#f00" stroke-width="1.6"/>
<circle cx="879.23" cy="440.14" r="4.9" fill="#ff99cc" stroke="#f00" stroke-width="1.6"/>
<circle cx="884.67" cy="453.25" r="4.9" fill="#ff99cc" stroke="#f00" stroke-width="1.6"/>
<circle cx="890.12" cy="460.24" r="4.9" fill="#ff99cc" stroke="#f00" stroke-width="1.6"/>
<circle cx="895.57" cy="443.93" r="4.9" fill="#ff99cc" stroke="#f00" stroke-width="1.6"/>
<circle cx="901.02" cy="450.33" r="4.9" fill="#ff99cc" stroke="#f00" stroke-width="1.6"/>
<circle cx="906.46" cy="442.18" r="4.9" fill="#ff99cc" stroke="#f00" stroke-width="1.6"/>
<circle cx="911.91" cy="427.34" r="4.9" fill="#ff99cc" stroke="#f00" stroke-width="1.6"/>
<circle cx="917.36" cy="431.70" r="4.9" fill="#ff99cc" stroke="#f00" stroke-width="1.6"/>
<circle cx="922.80" cy="446.84" r="4.9" fill="#ff99cc" stroke="#f00" stroke-width="1.6"/>
<circle cx="928.25" cy="456.75" r="4.9" fill="#ff99cc" stroke="#f00" stroke-width="1.6"/>
<circle cx="933.70" cy="463.74" r="4.9" fill="#ff99cc" stroke="#f00" stroke-width="1.6"/>
<circle cx="939.14" cy="470.15" r="4.9" fill="#ff99cc" stroke="#f00" stroke-width="1.6"/>
<circle cx="944.59" cy="467.24" r="4.9" fill="#ff99cc" stroke="#f00" stroke-width="1.6"/>
<circle cx="950.04" cy="473.36" r="4.9" fill="#ff99cc" stroke="#f00" stroke-width="1.6"/>
<circle cx="955.49" cy="478.90" r="4.9" fill="#ff99cc" stroke="#f00" stroke-width="1.6"/>
<circle cx="960.93" cy="477.73" r="4.9" fill="#ff99cc" stroke="#f00" stroke-width="1.6"/>
<circle cx="966.38" cy="483.56" r="4.9" fill="#ff99cc" stroke="#f00" stroke-width="1.6"/>
<circle cx="971.83" cy="471.90" r="4.9" fill="#ff99cc" stroke="#f00" stroke-width="1.6"/>
<circle cx="977.27" cy="498.72" r="4.9" fill="#ff99cc" stroke="#f00" stroke-width="1.6"/>
<g font-family="'Liberation Sans', sans-serif" font-weight="bold" font-size="26" fill="#000" text-anchor="end">
<text x="84.3" y="628.60">1,00</text>
<text x="84.3" y="571.50">2,00</text>
<text x="84.3" y="513.50">3,00</text>
<text x="84.3" y="455.20">4,00</text>
<text x="84.3" y="397.00">5,00</text>
<text x="84.3" y="338.80">6,00</text>
<text x="84.3" y="281.70">7,00</text>
</g>
<g font-family="'Liberation Sans', sans-serif" font-weight="bold" font-size="23.5" fill="#000" text-anchor="end">
<text transform="translate(121.20,637.2) rotate(-90)" x="0" y="0" textLength="65.9" lengthAdjust="spacingAndGlyphs">Jan 07</text>
<text transform="translate(159.32,637.2) rotate(-90)" x="0" y="0" textLength="71.5" lengthAdjust="spacingAndGlyphs">Aug 07</text>
<text transform="translate(197.44,637.2) rotate(-90)" x="0" y="0" textLength="71.5" lengthAdjust="spacingAndGlyphs">Mrz 08</text>
<text transform="translate(235.57,637.2) rotate(-90)" x="0" y="0" textLength="68.1" lengthAdjust="spacingAndGlyphs">Okt 08</text>
<text transform="translate(273.69,637.2) rotate(-90)" x="0" y="0" textLength="70.4" lengthAdjust="spacingAndGlyphs">Mai 09</text>
<text transform="translate(311.81,637.2) rotate(-90)" x="0" y="0" textLength="68.1" lengthAdjust="spacingAndGlyphs">Dez 09</text>
<text transform="translate(349.93,637.2) rotate(-90)" x="0" y="0" textLength="59.1" lengthAdjust="spacingAndGlyphs">Jul 10</text>
<text transform="translate(388.05,637.2) rotate(-90)" x="0" y="0" textLength="68.1" lengthAdjust="spacingAndGlyphs">Feb 11</text>
<text transform="translate(426.18,637.2) rotate(-90)" x="0" y="0" textLength="69.2" lengthAdjust="spacingAndGlyphs">Sep 11</text>
<text transform="translate(464.30,637.2) rotate(-90)" x="0" y="0" textLength="69.2" lengthAdjust="spacingAndGlyphs">Apr 12</text>
<text transform="translate(502.42,637.2) rotate(-90)" x="0" y="0" textLength="71.5" lengthAdjust="spacingAndGlyphs">Nov 12</text>
<text transform="translate(540.54,637.2) rotate(-90)" x="0" y="0" textLength="64.8" lengthAdjust="spacingAndGlyphs">Jun 13</text>
<text transform="translate(578.66,637.2) rotate(-90)" x="0" y="0" textLength="65.9" lengthAdjust="spacingAndGlyphs">Jan 14</text>
<text transform="translate(616.79,637.2) rotate(-90)" x="0" y="0" textLength="71.5" lengthAdjust="spacingAndGlyphs">Aug 14</text>
<text transform="translate(654.91,637.2) rotate(-90)" x="0" y="0" textLength="71.5" lengthAdjust="spacingAndGlyphs">Mrz 15</text>
<text transform="translate(693.03,637.2) rotate(-90)" x="0" y="0" textLength="68.1" lengthAdjust="spacingAndGlyphs">Okt 15</text>
<text transform="translate(731.15,637.2) rotate(-90)" x="0" y="0" textLength="70.4" lengthAdjust="spacingAndGlyphs">Mai 16</text>
<text transform="translate(769.27,637.2) rotate(-90)" x="0" y="0" textLength="68.1" lengthAdjust="spacingAndGlyphs">Dez 16</text>
<text transform="translate(807.40,637.2) rotate(-90)" x="0" y="0" textLength="59.1" lengthAdjust="spacingAndGlyphs">Jul 17</text>
<text transform="translate(845.52,637.2) rotate(-90)" x="0" y="0" textLength="68.1" lengthAdjust="spacingAndGlyphs">Feb 18</text>
<text transform="translate(883.64,637.2) rotate(-90)" x="0" y="0" textLength="69.2" lengthAdjust="spacingAndGlyphs">Sep 18</text>
<text transform="translate(921.76,637.2) rotate(-90)" x="0" y="0" textLength="69.2" lengthAdjust="spacingAndGlyphs">Apr 19</text>
<text transform="translate(959.88,637.2) rotate(-90)" x="0" y="0" textLength="71.5" lengthAdjust="spacingAndGlyphs">Nov 19</text>
<text transform="translate(998.01,637.2) rotate(-90)" x="0" y="0" textLength="64.8" lengthAdjust="spacingAndGlyphs">Jun 20</text>
</g>
</svg>
</body></html>
